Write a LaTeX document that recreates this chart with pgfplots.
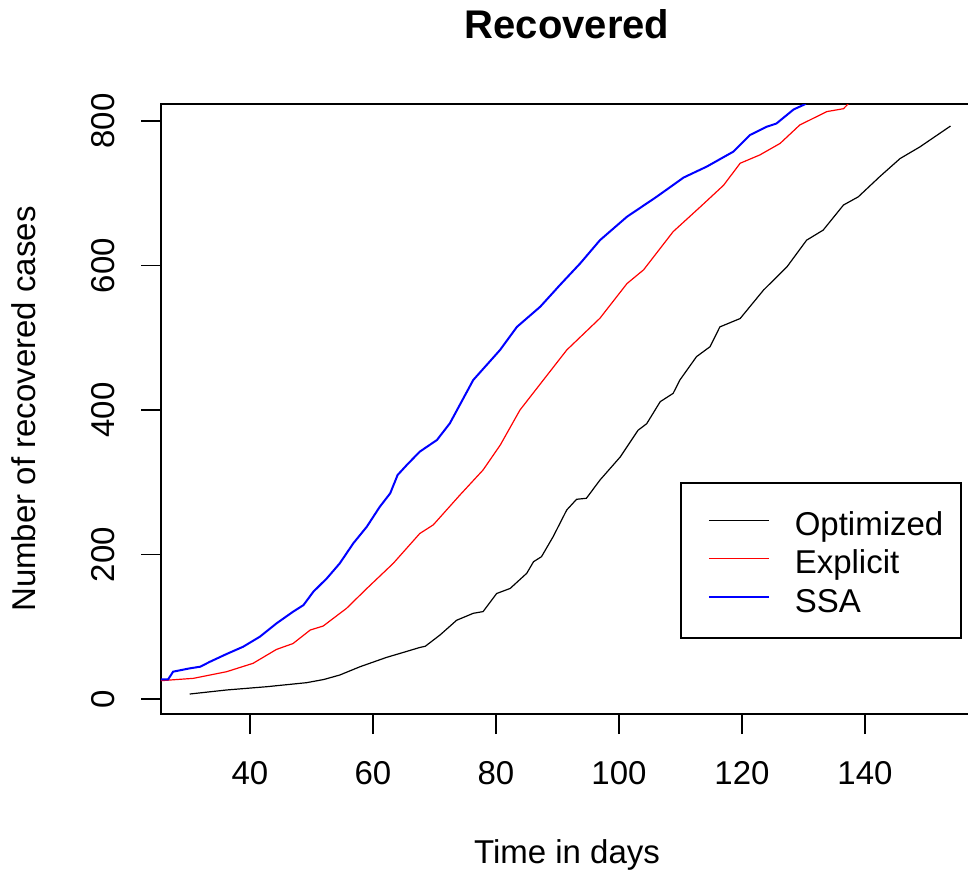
\documentclass[border=0pt]{standalone}
\usepackage{fontspec}
\setmainfont{Liberation Sans}
\usepackage{pgfplots}
\pgfplotsset{compat=1.18}
\begin{document}
\begin{tikzpicture}[x=1pt,y=1pt]
\useasboundingbox (-161,-159) rectangle (807,714);
\begin{axis}[
  scale only axis, width=812pt, height=610pt,
  anchor=south west, at={(0pt,0pt)},
  xmin=25.53, xmax=157.56, ymin=-20.76, ymax=823.5,
  axis line style={line width=1.5pt, black},
  xtick={40,60,80,100,120,140}, ytick={0,200,400,600,800},
  xtick pos=lower, ytick pos=left,
  tick align=outside, major tick length=20pt,
  tick style={line width=1.2pt, black},
  /pgf/number format/assume math mode=true,
  ticklabel style={font=\fontsize{33}{33}\selectfont},
  xticklabel style={anchor=base, yshift=-50pt},
  yticklabel style={xshift=-27pt, rotate=90, anchor=base},
  title={\bfseries Recovered},
  every axis title shift=0pt,
  title style={font=\fontsize{40}{40}\selectfont, at={(axis description cs:0.5,1.1066)}, anchor=base},
  xlabel={Time in days},
  xlabel style={font=\fontsize{33}{33}\selectfont, at={(axis description cs:0.5,-0.2443)}, anchor=base},
  ylabel={Number of recovered cases},
  ylabel style={font=\fontsize{33}{33}\selectfont, at={(axis description cs:-0.1545,0.5)}, anchor=base},
  legend cell align=left,
  legend style={at={(axis description cs:0.6392,0.3803)}, anchor=north west,
    draw=black, line width=1.5pt, inner xsep=0pt, inner ysep=19.75pt,
    row sep=0pt, column sep=0pt,
    font=\fontsize{33}{33}\selectfont,
    nodes={inner xsep=0pt, inner ysep=0pt, text height=32.5pt, text depth=6pt, text width=166pt}},
  legend image code/.code={\path[draw=none,fill=none] (0pt,0pt) -- (114pt,0pt); \draw[#1] (28pt,1.5pt) -- (88pt,1.5pt);},
]
\addplot[black, line width=1.2pt] coordinates {
(30.2,6.9)(36.2,12.5)(42.7,17)(49.2,22.6)(52,27)(54.6,33.2)(57.9,44.7)(62.2,57.6)(64.9,64.4)(67.6,71.3)(68.5,73)(70.9,88.6)(73.6,109)(76.3,118.6)(77.9,121)(80.1,146)(82.3,153)(85,174)(86.1,190)(87.4,197)(89.3,224.8)(91.5,261.6)(93.1,276.4)(94.7,277.8)(96.9,303)(100.2,335)(103.1,372)(104.5,381)(106.7,411.5)(108.8,423)(109.9,441.5)(112.6,473.8)(114.8,487.6)(116.4,515)(119.7,526.6)(123.5,566)(127.3,598)(130.5,635)(133.2,649)(136.5,683.7)(138.9,695)(142.4,723)(145.7,748)(148.9,764)(153.9,793)
};
\addlegendentry{Optimized}
\addplot[red, line width=1.2pt] coordinates {
(25.4,25.3)(30.8,28.6)(36.2,37.8)(40.5,49.4)(44.3,68.6)(47,76.8)(49.8,95.5)(51.9,101)(55.7,125.5)(59,153)(63.3,187.8)(67.6,229)(69.8,241)(74.1,282)(77.9,317)(80.7,351.6)(83.9,400)(87.7,441.5)(91.5,483)(96.9,527)(101.3,575)(104,594)(108.8,646.8)(113.2,681)(117,711)(119.7,741.5)(122.9,753)(126.2,769)(129.4,794.5)(133.8,813)(136.5,817)(137.3,824)(138,830)
};
\addlegendentry{Explicit}
\addplot[blue, line width=2pt] coordinates {
(25.4,27.3)(26.7,27.3)(27.5,37.8)(30.2,42.4)(31.9,44.7)(33.5,51.6)(36.2,62.3)(38.9,72.4)(41.6,86.2)(44.3,104.6)(47,120.8)(48.7,130)(50.3,148.5)(52.5,167)(54.6,187.8)(56.8,215.5)(59,238.5)(61.1,266)(62.8,284.7)(64,310)(65.5,323.9)(67.6,342.3)(70.4,358.5)(72.5,381.6)(76.3,441.5)(80.65,483)(83.4,515)(87.2,543)(90.4,573)(93.7,603)(96.9,635)(101.3,667.5)(106.1,695)(110.5,721.7)(114.3,737)(118.6,757.6)(121.3,780.6)(124,792)(125.6,796.5)(128.4,816)(130.2,823)(131,830)
};
\addlegendentry{SSA}
\end{axis}
\end{tikzpicture}
\end{document}
